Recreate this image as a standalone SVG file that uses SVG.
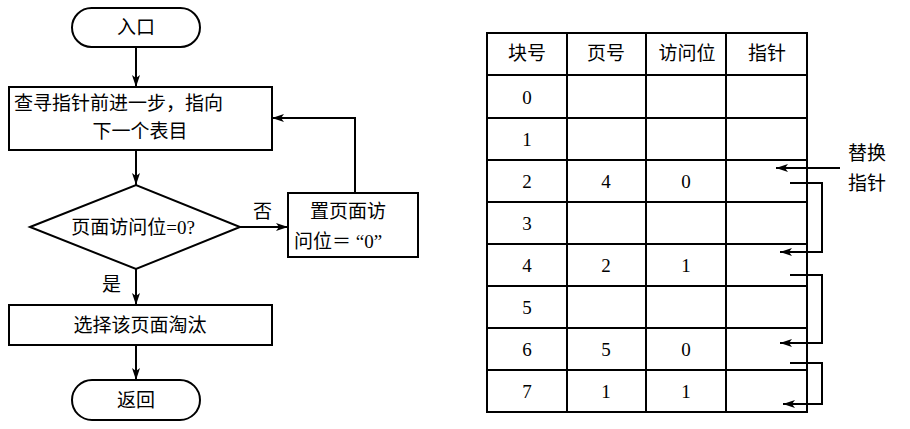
<svg xmlns="http://www.w3.org/2000/svg" width="910" height="429" viewBox="0 0 910 429">
<style>
text{font-family:"Liberation Serif","Noto Sans CJK SC",serif;font-size:19px;fill:#000}
.s{fill:none;stroke:#000;stroke-width:2}
.w{fill:#fff;stroke:#000;stroke-width:2}
.c{text-anchor:middle}
</style>
<defs><marker id="a" viewBox="0 0 12 8" refX="12" refY="4" markerWidth="12" markerHeight="8" markerUnits="userSpaceOnUse" orient="auto"><path d="M0,0L12,4L0,8L3,4z"/></marker></defs>
<rect width="910" height="429" fill="#fff"/>
<g id="connectors" class="s" marker-end="url(#a)">
<line x1="136" y1="47" x2="136" y2="87"/>
<line x1="136" y1="150" x2="136" y2="185"/>
<line x1="240" y1="227" x2="288" y2="227"/>
<polyline points="355,193 355,118 272,118"/>
<line x1="136" y1="269" x2="136" y2="305"/>
<line x1="136" y1="345" x2="136" y2="380"/>
<line x1="840" y1="168" x2="776" y2="168"/>
<polyline points="790,183 822,183 822,252 780,252"/>
<polyline points="790,275 822,275 822,343 780,343"/>
<polyline points="790,363 822,363 822,404 783,404"/>
</g>
<g id="start"><rect class="w" x="72" y="8" width="128" height="39" rx="19.5"/><text class="c" x="136" y="34">入口</text></g>
<g id="step"><rect class="w" x="9" y="87" width="263" height="63"/><text x="14" y="110">查寻指针前进一步，指向</text><text class="c" x="140" y="138">下一个表目</text></g>
<g id="check"><polygon class="w" points="30,227 136,185 240,227 136,269"/><text class="c" x="133" y="234">页面访问位=0?</text></g>
<g id="reset"><rect class="w" x="288" y="193" width="130" height="64"/><text x="310" y="218">置页面访</text><text x="294" y="248">问位＝ “0”</text></g>
<text x="253" y="218">否</text>
<text x="102" y="291">是</text>
<g id="select"><rect class="w" x="9" y="305" width="263" height="40"/><text class="c" x="140" y="332">选择该页面淘汰</text></g>
<g id="end"><rect class="w" x="72" y="380" width="128" height="40" rx="20"/><text class="c" x="136" y="407">返回</text></g>
<g id="table">
<rect class="s" x="487" y="33" width="320" height="379"/>
<g class="s"><line x1="567" y1="33" x2="567" y2="412"/><line x1="646" y1="33" x2="646" y2="412"/><line x1="726" y1="33" x2="726" y2="412"/>
<line x1="487" y1="75" x2="807" y2="75"/><line x1="487" y1="118" x2="807" y2="118"/><line x1="487" y1="160" x2="807" y2="160"/><line x1="487" y1="202" x2="807" y2="202"/><line x1="487" y1="244" x2="807" y2="244"/><line x1="487" y1="286" x2="807" y2="286"/><line x1="487" y1="328" x2="807" y2="328"/><line x1="487" y1="370" x2="807" y2="370"/></g>
<text class="c" x="527" y="60">块号</text><text class="c" x="606" y="60">页号</text><text class="c" x="687" y="60">访问位</text><text class="c" x="767" y="60">指针</text>
<text class="c" x="527" y="104">0</text><text class="c" x="527" y="146">1</text><text class="c" x="527" y="188">2</text><text class="c" x="527" y="230">3</text><text class="c" x="527" y="272">4</text><text class="c" x="527" y="314">5</text><text class="c" x="527" y="356">6</text><text class="c" x="527" y="398">7</text>
<text class="c" x="606" y="188">4</text><text class="c" x="686" y="188">0</text>
<text class="c" x="606" y="272">2</text><text class="c" x="686" y="272">1</text>
<text class="c" x="606" y="356">5</text><text class="c" x="686" y="356">0</text>
<text class="c" x="606" y="398">1</text><text class="c" x="686" y="398">1</text>
</g>
<text x="848" y="160">替换</text><text x="848" y="190">指针</text>
</svg>
